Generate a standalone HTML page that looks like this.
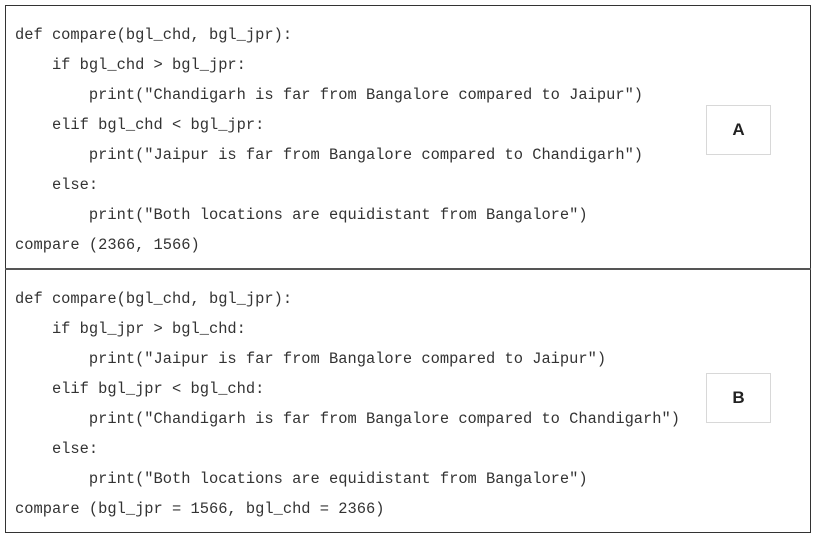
<!DOCTYPE html>
<html><head><meta charset="utf-8"><style>
html,body{margin:0;padding:0;background:#fff;}
body{width:816px;height:539px;position:relative;overflow:hidden;}
.frame{position:absolute;left:5px;top:5px;width:806px;height:528px;border:1.5px solid #333;box-sizing:border-box;}
.div{position:absolute;left:5px;top:268px;width:806px;height:2px;background:#555;}
.l{position:absolute;left:15px;font-family:"Liberation Mono",monospace;font-size:15.4px;color:#333;white-space:pre;line-height:20px;}
.box{position:absolute;left:706px;width:65px;height:50px;border:1px solid #d8d8d8;box-sizing:border-box;font-family:"Liberation Sans",sans-serif;font-size:17px;font-weight:bold;color:#222;display:flex;align-items:center;justify-content:center;}
</style></head><body>
<div class="frame"></div>
<div class="div"></div>
<div class="l" style="top:25px">def compare(bgl_chd, bgl_jpr):</div>
<div class="l" style="top:55px">    if bgl_chd &gt; bgl_jpr:</div>
<div class="l" style="top:85px">        print("Chandigarh is far from Bangalore compared to Jaipur")</div>
<div class="l" style="top:115px">    elif bgl_chd &lt; bgl_jpr:</div>
<div class="l" style="top:145px">        print("Jaipur is far from Bangalore compared to Chandigarh")</div>
<div class="l" style="top:175px">    else:</div>
<div class="l" style="top:205px">        print("Both locations are equidistant from Bangalore")</div>
<div class="l" style="top:235px">compare (2366, 1566)</div>
<div class="box" style="top:105px">A</div>
<div class="l" style="top:289px">def compare(bgl_chd, bgl_jpr):</div>
<div class="l" style="top:319px">    if bgl_jpr &gt; bgl_chd:</div>
<div class="l" style="top:349px">        print("Jaipur is far from Bangalore compared to Jaipur")</div>
<div class="l" style="top:379px">    elif bgl_jpr &lt; bgl_chd:</div>
<div class="l" style="top:409px">        print("Chandigarh is far from Bangalore compared to Chandigarh")</div>
<div class="l" style="top:439px">    else:</div>
<div class="l" style="top:469px">        print("Both locations are equidistant from Bangalore")</div>
<div class="l" style="top:499px">compare (bgl_jpr = 1566, bgl_chd = 2366)</div>
<div class="box" style="top:373px">B</div>
</body></html>
